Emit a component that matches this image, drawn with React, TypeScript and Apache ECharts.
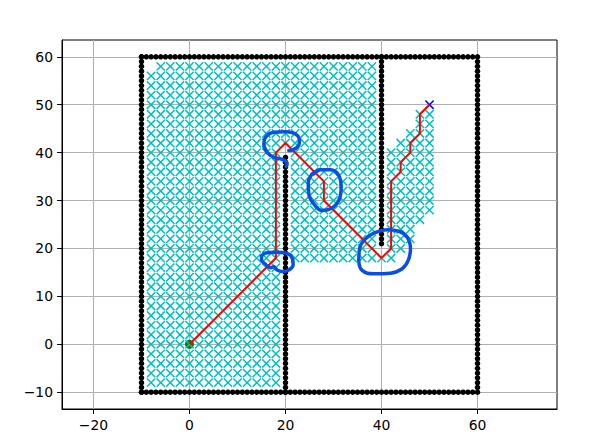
import React, { useEffect, useRef } from "react";
import * as echarts from "echarts";

const X_TICKS = [-20, 0, 20, 40, 60];
const Y_TICKS = [-10, 0, 10, 20, 30, 40, 50, 60];
const X_MIN = -26.56;
const X_MAX = 76.56;
const Y_MIN = -13.5;
const Y_MAX = 63.5;

const START: number[] = [0, 0];
const GOAL: number[] = [50, 50];

// obstacle lines [x0, y0, x1, y1]; one dot per unit along each line
const obstacleLines: number[][] = [
  [-10, -10, 59, -10],
  [60, -10, 60, 59],
  [-10, 60, 60, 60],
  [-10, -10, -10, 60],
  [20, -10, 20, 39],
  [40, 21, 40, 60],
];

// explored (closed set) nodes, grid step 2: [y, xFrom, xTo]
const closedRows: number[][] = [
  [-8, -8, 18], [-6, -8, 18], [-4, -8, 18], [-2, -8, 18], [0, -8, 18],
  [2, -8, 18], [4, -8, 18], [6, -8, 18], [8, -8, 18], [10, -8, 18],
  [12, -8, 18], [14, -8, 18], [16, -8, 18],
  [18, -8, 18], [18, 22, 42],
  [20, -8, 18], [20, 22, 38], [20, 42, 44],
  [22, -8, 18], [22, 22, 38], [22, 42, 46],
  [24, -8, 18], [24, 22, 38], [24, 42, 46],
  [26, -8, 18], [26, 22, 38], [26, 42, 48],
  [28, -8, 18], [28, 22, 38], [28, 42, 50],
  [30, -8, 18], [30, 22, 38], [30, 42, 50],
  [32, -8, 18], [32, 22, 38], [32, 42, 50],
  [34, -8, 18], [34, 22, 38], [34, 42, 50],
  [36, -8, 18], [36, 22, 38], [36, 42, 50],
  [38, -8, 18], [38, 22, 38], [38, 42, 50],
  [40, -8, 18], [40, 22, 38], [40, 42, 50],
  [42, -8, 38], [42, 44, 50],
  [44, -8, 38], [44, 46, 50],
  [46, -8, 38], [46, 48, 50],
  [48, -8, 38], [48, 48, 50],
  [50, -8, 38], [52, -8, 38], [54, -8, 38], [56, -8, 38], [58, -6, 38],
];

// final path (start -> goal)
const pathPoints: number[][] = [
  [0, 0], [18, 18], [18, 40], [20, 42], [28, 34], [28, 30], [40, 18],
  [42, 20], [42, 34], [44, 36], [44, 38], [46, 40], [46, 42], [48, 44],
  [48, 48], [50, 50],
];

// hand-drawn blue annotation loops (data coordinates)
const loopA: number[][] = [
  [20.69, 40.42], [22.44, 41.1], [22.92, 42.5], [22.08, 43.9], [20.0, 44.38],
  [17.56, 44.23], [15.83, 43.19], [15.48, 41.81], [16.19, 40.06], [17.56, 39.02],
  [18.96, 38.69], [19.85, 38.33], [20.35, 37.65], [20.15, 37.15],
];
const loopB: number[][] = [
  [25.9, 35.56], [27.29, 36.4], [29.38, 36.4], [31.1, 35.21], [31.6, 32.77],
  [31.1, 30.0], [29.38, 28.27], [27.65, 27.92], [25.9, 29.31], [24.85, 31.4],
  [24.73, 33.81], [25.56, 35.56], [26.6, 36.1],
];
const loopC: number[][] = [
  [36.67, 22.02], [38.4, 23.19], [41.19, 23.9], [43.6, 23.6], [45.35, 22.35],
  [46.04, 19.94], [45.56, 17.5], [44.31, 15.77], [41.88, 14.85], [38.4, 14.73],
  [35.98, 15.42], [35.27, 17.5], [35.42, 19.94], [36.67, 22.02],
];
const loopD: number[][] = [
  [15.0, 18.4], [15.83, 19.05], [18.27, 19.2], [20.35, 18.95], [21.4, 18.0],
  [21.6, 16.6], [20.69, 15.5], [19.31, 15.2], [18.13, 15.6], [17.56, 16.2],
  [16.88, 16.0], [15.83, 16.7], [15.0, 17.6], [15.0, 18.4],
];

function expandLines(lines: number[][]): number[][] {
  const out: number[][] = [];
  for (const [x0, y0, x1, y1] of lines) {
    const n = Math.max(Math.abs(x1 - x0), Math.abs(y1 - y0));
    for (let i = 0; i <= n; i++) {
      out.push([x0 + ((x1 - x0) * i) / n, y0 + ((y1 - y0) * i) / n]);
    }
  }
  return out;
}

function expandRows(rows: number[][]): number[][] {
  const out: number[][] = [];
  for (const [y, a, b] of rows) {
    for (let x = a; x <= b; x += 2) out.push([x, y]);
  }
  return out;
}

const fmt = (v: number) => String(v).replace("-", "\u2212");
const FONT = "DejaVu Sans";
const CROSS = "path://M0 0L10 10M10 0L0 10";
const BLUE_LOOP = "#0a4fe3";

export default function App() {
  const ref = useRef<HTMLDivElement>(null);
  useEffect(() => {
    if (!ref.current) return;
    const chart = echarts.init(ref.current, undefined, { renderer: "svg" });
    const loopSeries = [loopA, loopB, loopC, loopD].map((d) => ({
      type: "line",
      data: d,
      smooth: 0.45,
      showSymbol: false,
      symbol: "none",
      lineStyle: { color: BLUE_LOOP, width: 3.5, cap: "round", join: "round" },
      z: 6,
    }));
    chart.setOption({
      animation: false,
      grid: {
        left: 62,
        top: 40,
        width: 495,
        height: 369,
        show: true,
        borderColor: "#000",
        borderWidth: 1,
        containLabel: false,
      },
      xAxis: {
        type: "value",
        min: X_MIN,
        max: X_MAX,
        axisLine: { show: true, onZero: false, lineStyle: { color: "#000", width: 1 } },
        axisTick: { show: true, length: 5, inside: false, customValues: X_TICKS, lineStyle: { color: "#000", width: 1 } },
        axisLabel: {
          customValues: X_TICKS,
          formatter: (v: number) => fmt(v),
          color: "#000",
          fontFamily: FONT,
          fontSize: 13.9,
          margin: 9,
        },
        splitLine: { show: true, lineStyle: { color: "#b0b0b0", width: 1.1 } },
      },
      yAxis: {
        type: "value",
        min: Y_MIN,
        max: Y_MAX,
        axisLine: { show: true, onZero: false, lineStyle: { color: "#000", width: 1 } },
        axisTick: { show: true, length: 5, inside: false, customValues: Y_TICKS, lineStyle: { color: "#000", width: 1 } },
        axisLabel: {
          customValues: Y_TICKS,
          formatter: (v: number) => fmt(v),
          color: "#000",
          fontFamily: FONT,
          fontSize: 13.9,
          margin: 9,
        },
        splitLine: { show: true, lineStyle: { color: "#b0b0b0", width: 1.1 } },
      },
      series: [
        {
          type: "scatter",
          data: expandLines(obstacleLines),
          symbol: "circle",
          symbolSize: 5.5,
          itemStyle: { color: "#000", opacity: 1 },
          z: 2,
        },
        {
          type: "scatter",
          data: [START],
          symbol: "circle",
          symbolSize: 9,
          itemStyle: { color: "#008000", opacity: 1 },
          z: 3,
        },
        {
          type: "scatter",
          data: [GOAL],
          symbol: CROSS,
          symbolSize: 8.3,
          itemStyle: { color: "transparent", borderColor: "#0000ff", borderWidth: 1.5, opacity: 1 },
          z: 3,
        },
        {
          type: "scatter",
          data: expandRows(closedRows),
          symbol: CROSS,
          symbolSize: 8.3,
          itemStyle: { color: "transparent", borderColor: "#00bfbf", borderWidth: 1.5, opacity: 1 },
          z: 4,
        },
        {
          type: "line",
          data: pathPoints,
          showSymbol: false,
          symbol: "none",
          lineStyle: { color: "#ff0000", width: 2 },
          z: 5,
        },
        ...loopSeries,
      ],
    });
    return () => chart.dispose();
  }, []);
  return (
    <div
      ref={ref}
      style={{ position: "fixed", left: 0, top: 0, width: 593, height: 444, background: "#fff" }}
    />
  );
}
